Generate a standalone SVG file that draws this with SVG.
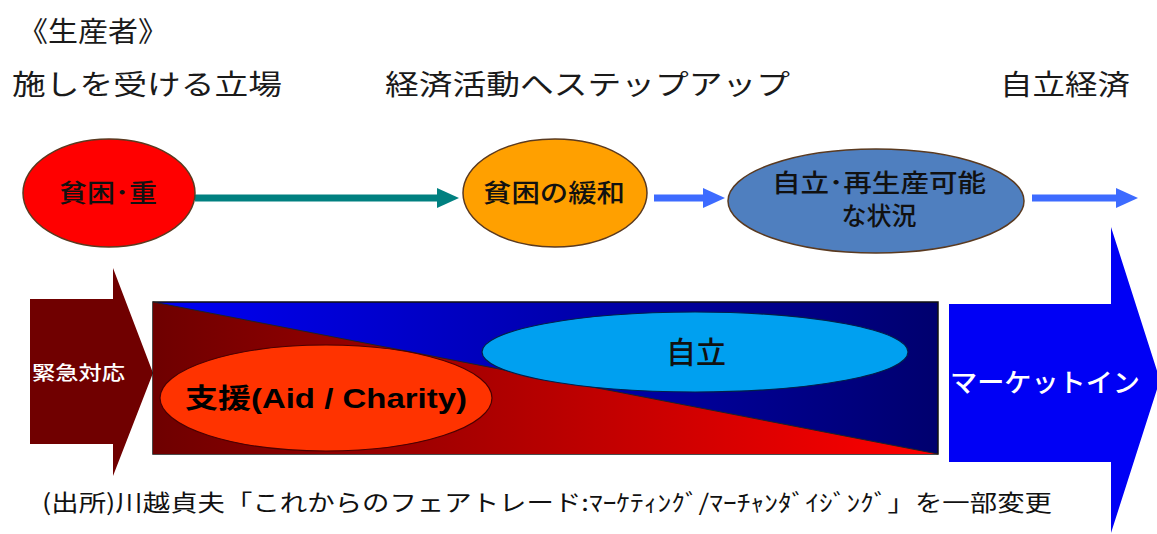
<svg xmlns="http://www.w3.org/2000/svg" width="1157" height="534" viewBox="0 0 1157 534">
<defs>
<style>
.hd{font-family:"Noto Sans CJK JP","Liberation Serif",serif;font-size:28px;fill:#1a1a1a;}
.nd{font-family:"Noto Sans CJK JP","Liberation Sans",sans-serif;font-size:25px;font-weight:500;fill:#111;text-anchor:middle;}
.wt{font-family:"Noto Sans CJK JP","Liberation Sans",sans-serif;fill:#fff;font-weight:500;}
.sh{stroke:#5a3a20;stroke-width:1.5;}
</style>
<linearGradient id="gBlue" x1="0" y1="0" x2="1" y2="0">
<stop offset="0" stop-color="#0000f5"/>
<stop offset="1" stop-color="#00006e"/>
</linearGradient>
<linearGradient id="gRed" x1="0" y1="0" x2="1" y2="0">
<stop offset="0" stop-color="#6e0000"/>
<stop offset="1" stop-color="#ff0000"/>
</linearGradient>
<marker id="mTeal" markerWidth="22" markerHeight="20" refX="2" refY="10" orient="auto" markerUnits="userSpaceOnUse" viewBox="0 0 22 20">
<path d="M0,0 L22,10 L0,20 Z" fill="#008080"/>
</marker>
<marker id="mBlue" markerWidth="22" markerHeight="20" refX="2" refY="10" orient="auto" markerUnits="userSpaceOnUse" viewBox="0 0 22 20">
<path d="M0,0 L22,10 L0,20 Z" fill="#3d6bff"/>
</marker>
</defs>
<rect width="1157" height="534" fill="#fff"/>

<g id="headers">
<text class="hd" x="18" y="42" textLength="150" lengthAdjust="spacingAndGlyphs">《生産者》</text>
<text class="hd" x="12" y="95" textLength="270" lengthAdjust="spacingAndGlyphs">施しを受ける立場</text>
<text class="hd" x="385" y="95" textLength="405" lengthAdjust="spacingAndGlyphs">経済活動へステップアップ</text>
<text class="hd" x="1000" y="95" textLength="130" lengthAdjust="spacingAndGlyphs">自立経済</text>
</g>

<g id="connectors">
<line x1="195" y1="198" x2="439" y2="198" stroke="#008080" stroke-width="7" marker-end="url(#mTeal)"/>
<line x1="654" y1="198" x2="705" y2="198" stroke="#3d6bff" stroke-width="7" marker-end="url(#mBlue)"/>
<line x1="1032" y1="198" x2="1118" y2="198" stroke="#3d6bff" stroke-width="7" marker-end="url(#mBlue)"/>
</g>

<g id="node-poverty">
<ellipse cx="109" cy="193" rx="86" ry="54" fill="#ff0000" class="sh"/>
<text class="nd" x="108" y="202" textLength="98" lengthAdjust="spacingAndGlyphs">貧困･重</text>
</g>
<g id="node-relief">
<ellipse cx="555" cy="193" rx="92" ry="54" fill="#ffa000" class="sh"/>
<text class="nd" x="554" y="202" textLength="142" lengthAdjust="spacingAndGlyphs">貧困の緩和</text>
</g>
<g id="node-selfreliant">
<ellipse cx="876" cy="201" rx="148" ry="52" fill="#4f7fbf" class="sh"/>
<text class="nd" x="879" y="192" textLength="214" lengthAdjust="spacingAndGlyphs">自立･再生産可能</text>
<text class="nd" x="879" y="225">な状況</text>
</g>

<g id="node-emergency">
<path d="M30,299 L113,299 L113,268 L153,373 L113,476 L113,444 L30,444 Z" fill="#700000"/>
<text class="wt" x="32" y="380" font-size="19" textLength="93" lengthAdjust="spacingAndGlyphs">緊急対応</text>
</g>

<g id="node-transition">
<rect x="153" y="302" width="785" height="152" fill="url(#gBlue)" stroke="#111" stroke-width="1.5"/>
<path d="M153,302 L938,454 L153,454 Z" fill="url(#gRed)"/>
<line x1="153" y1="302" x2="938" y2="454" stroke="#222" stroke-width="1"/>
</g>

<g id="node-aid">
<ellipse cx="326" cy="398" rx="166" ry="53" fill="#ff3300" stroke="#4a0000" stroke-width="1.2"/>
<text x="326" y="408" text-anchor="middle" font-family="'Liberation Sans','Noto Sans CJK JP',sans-serif" font-weight="bold" font-size="27" fill="#000" textLength="282" lengthAdjust="spacingAndGlyphs">支援(Aid / Charity)</text>
</g>

<g id="node-independence">
<ellipse cx="695" cy="352" rx="213" ry="40" fill="#00a0f0" stroke="#00204a" stroke-width="1.2"/>
<text class="nd" x="696" y="363" style="font-size:30px">自立</text>
</g>

<g id="node-marketin">
<path d="M949,304 L1111,304 L1111,227 L1160,380 L1111,533 L1111,462 L949,462 Z" fill="#0000f5"/>
<text class="wt" x="950" y="392" font-size="26" textLength="190" lengthAdjust="spacingAndGlyphs">マーケットイン</text>
</g>

<g id="caption">
<text x="42" y="511" font-family="'Noto Sans CJK JP','Liberation Sans',sans-serif" font-size="23" fill="#111" textLength="1010" lengthAdjust="spacingAndGlyphs">(出所)川越貞夫「これからのフェアトレード:ﾏｰｹﾃｨﾝｸﾞ/ﾏｰﾁｬﾝﾀﾞｲｼﾞﾝｸﾞ」を一部変更</text>
</g>
</svg>
